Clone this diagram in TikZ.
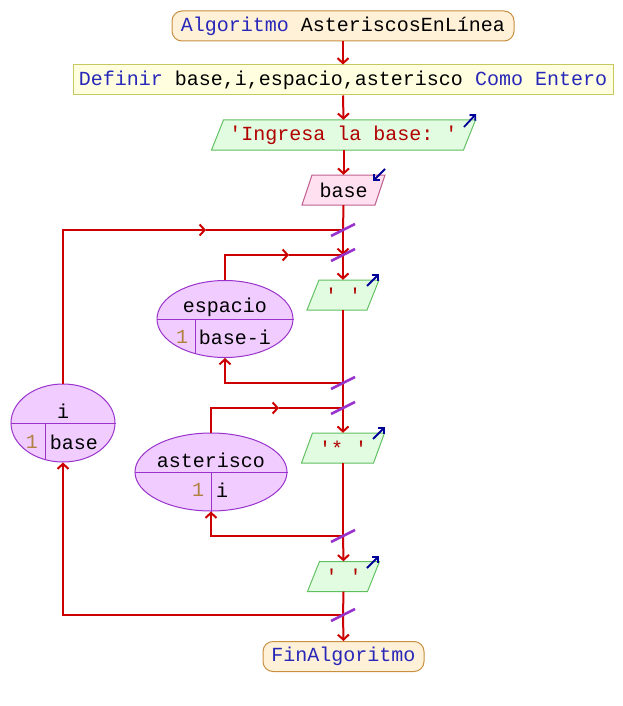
\documentclass[tikz,border=0pt]{standalone}
\usepackage{fontspec}
\setmonofont{Liberation Mono}
\usetikzlibrary{arrows.meta,shapes.geometric,calc}
\definecolor{flowred}{HTML}{CC0000}
\definecolor{slashc}{HTML}{9933CC}
\definecolor{kw}{HTML}{2828B8}
\definecolor{strc}{HTML}{B00000}
\definecolor{numc}{HTML}{B08040}
\definecolor{iconc}{HTML}{000099}
\definecolor{termfill}{HTML}{FFF0D8}
\definecolor{termdraw}{HTML}{C89040}
\definecolor{deffill}{HTML}{FFFFE0}
\definecolor{defdraw}{HTML}{C8C860}
\definecolor{outfill}{HTML}{E2FCE2}
\definecolor{outdraw}{HTML}{60C060}
\definecolor{infill}{HTML}{FFE0F0}
\definecolor{indraw}{HTML}{C06090}
\definecolor{ellfill}{HTML}{F0CCFF}
\definecolor{elldraw}{HTML}{9933CC}
\newcommand{\sq}{\textquotesingle}
\tikzset{
  every node/.style={font=\ttfamily\fontsize{20}{24}\selectfont, text=black},
  flow/.style={draw=flowred, line width=2pt},
  tipflow/.style={flow, -{Straight Barb[length=5pt,width=11pt,line width=2pt]}},
  term/.style={draw=termdraw, fill=termfill, line width=1pt, rounded corners=10pt, minimum height=30pt, inner sep=0pt},
  defbox/.style={draw=defdraw, fill=deffill, line width=1pt, minimum height=30pt, inner sep=0pt},
  outpara/.style={draw=outdraw, fill=outfill, line width=1pt},
  inpara/.style={draw=indraw, fill=infill, line width=1pt},
  icon/.style={draw=iconc, line width=1.8pt, -{Straight Barb[length=4pt,width=8pt,line width=1.8pt]}},
  slash/.style={draw=slashc, line width=2.5pt},
  loopell/.style={ellipse, draw=elldraw, fill=ellfill, line width=1pt, inner sep=0pt},
  divider/.style={draw=elldraw, line width=1pt},
}
% name, cx, cy, half width at mid, slant, style, text
\newcommand{\mypara}[7]{%
  \path[#6] ({#2-#4-#5},{#3+15}) -- ({#2-#4+#5},{#3-15}) -- ({#2+#4+#5},{#3-15}) -- ({#2+#4-#5},{#3+15}) -- cycle;
  \node[inner sep=0pt, minimum width={2*#4}, minimum height=30pt] (#1) at (#2,#3) {#7};
}
\begin{document}
\begin{tikzpicture}[x=1pt,y=-1pt]
\useasboundingbox (0,0) rectangle (623,706);
\fill[white] (0,0) rectangle (623,706);

% terminals and definition
\node[term, minimum width=342pt] (title) at (343,26) {{\color{kw}Algoritmo} AsteriscosEnLínea};
\node[defbox, minimum width=540pt] (def) at (343,80) {{\color{kw}Definir} base,i,espacio,asterisco {\color{kw}Como} {\color{kw}Entero}};
\node[term, minimum width=161pt] (fin) at (343.5,656.5) {\color{kw}FinAlgoritmo};

% parallelograms
\mypara{ing}{343.5}{135}{126}{6}{outpara}{\color{strc}\sq Ingresa la base: \sq}
\mypara{base}{343.5}{190}{36.5}{5}{inpara}{base}
\mypara{o1}{343}{295}{30}{6}{outpara}{\color{strc}\sq\ \sq}
\mypara{o2}{343}{448}{36}{5.5}{outpara}{\color{strc}\sq*\ \sq}
\mypara{o3}{343.5}{576.5}{30}{6}{outpara}{\color{strc}\sq\ \sq}

% icons
\draw[icon] (464,127) -- (476,114);
\draw[icon] (385,169) -- (373,181);
\draw[icon] (367,286) -- (379,274);
\draw[icon] (373,439) -- (385,427);
\draw[icon] (367,568) -- (379,556);

% loop ellipses
\node[loopell, minimum width=104pt, minimum height=78pt] (eI) at (63,423) {};
\draw[divider] (eI.west) -- (eI.east);
\draw[divider] (45,423) -- (45,459.6);
\node at (63,411) {i};
\node[text=numc] at (32,442) {1};
\node at (74,442) {base};

\node[loopell, minimum width=136pt, minimum height=77pt] (eE) at (225,319) {};
\draw[divider] (eE.west) -- (eE.east);
\draw[divider] (195,319) -- (195,353.5);
\node at (225,307) {espacio};
\node[text=numc] at (182,337) {1};
\node at (235,337) {base-i};

\node[loopell, minimum width=152pt, minimum height=78pt] (eA) at (211,472) {};
\draw[divider] (eA.west) -- (eA.east);
\draw[divider] (eA.center) -- (eA.south);
\node at (211,460) {asterisco};
\node[text=numc] at (198,490) {1};
\node at (222,490) {i};

% junction coordinates
\coordinate (j1) at (343,230);
\coordinate (j2) at (343,255);
\coordinate (j3) at (343,383);
\coordinate (j4) at (343,408);
\coordinate (j5) at (343,536);
\coordinate (j6) at (343,615);
\coordinate (mI) at (206,230);
\coordinate (mE) at (289,255);
\coordinate (mA) at (279,408);

% main flow
\draw[tipflow] (title.south) -- (def.north);
\draw[tipflow] (def.south) -- (ing.north);
\draw[tipflow] (ing.south) -- (base.north);
\draw[flow] (base.south) -- (j1);
\draw[tipflow] (j1) -- (j2);
\draw[tipflow] (j2) -- (o1.north);
\draw[flow] (o1.south) -- (j3);
\draw[flow] (j3) -- (j4);
\draw[tipflow] (j4) -- (o2.north);
\draw[flow] (o2.south) -- (j5);
\draw[tipflow] (j5) -- (o3.north);
\draw[flow] (o3.south) -- (j6);
\draw[tipflow] (j6) -- (fin.north);

% loops
\draw[tipflow] (eI.north) |- (mI);
\draw[flow] (mI) -- (j1);
\draw[tipflow] (j6) -| (eI.south);

\draw[tipflow] (eE.north) |- (mE);
\draw[flow] (mE) -- (j2);
\draw[tipflow] (j3) -| (eE.south);

\draw[tipflow] (eA.north) |- (mA);
\draw[flow] (mA) -- (j4);
\draw[tipflow] (j5) -| (eA.south);

% junction marks
\foreach \j in {j1,j2,j3,j4,j5,j6} {
  \draw[slash] ($(\j)+(-12,6)$) -- ($(\j)+(12,-6)$);
}
\end{tikzpicture}
\end{document}
